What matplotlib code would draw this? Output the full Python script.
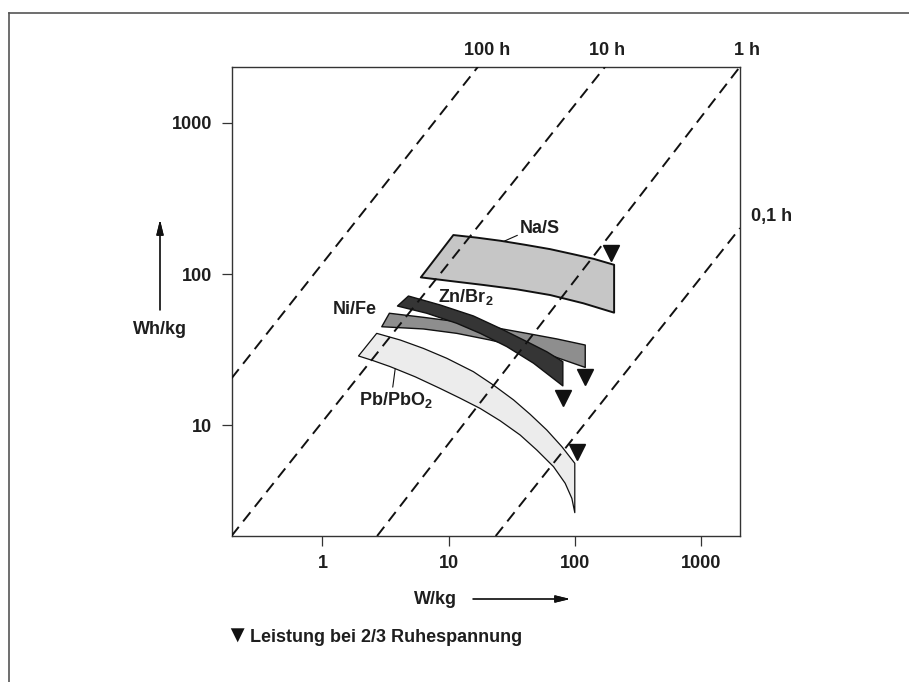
import numpy as np
import matplotlib.pyplot as plt
from matplotlib.lines import Line2D
from matplotlib.ticker import NullLocator

plt.rcParams['font.family'] = ['Liberation Sans', 'DejaVu Sans']
plt.rcParams['font.weight'] = 'bold'
plt.rcParams['mathtext.fontset'] = 'custom'
plt.rcParams['mathtext.rm'] = 'Liberation Sans:bold'
plt.rcParams['mathtext.it'] = 'Liberation Sans:bold'
plt.rcParams['mathtext.bf'] = 'Liberation Sans:bold'

# Entladezeit-Linien, Endpunkte (W/kg, Wh/kg)
hour_labels = ['100 h', '10 h', '1 h', '0,1 h']
dash_w = [[0.19, 17.1], [0.19, 174], [2.71, 2040], [23.6, 2040]]
dash_wh = [[20.4, 2350], [1.85, 2350], [1.85, 2350], [1.85, 201]]

# Bänder: obere und untere Kante (W/kg, Wh/kg)
nas_top_x = [10.9, 16.7, 25.6, 40.4, 63.8, 97.7, 141, 205]
nas_top_y = [181, 174, 166, 156, 146, 135, 126, 115]
nas_bot_x = [6.02, 10.3, 18.9, 34.7, 63.8, 117, 205]
nas_bot_y = [95, 89.9, 84.6, 79.2, 72.6, 64.0, 55.5]

znbr_top_x = [4.80, 8.56, 15.7, 25.6, 41.7, 60.0, 80.4]
znbr_top_y = [71.5, 62.4, 52.8, 43.7, 35.7, 30.6, 26.3]
znbr_bot_x = [3.93, 6.71, 11.6, 17.8, 28.9, 47.1, 80.4]
znbr_bot_y = [61.4, 55.0, 47.2, 40.5, 33.1, 25.7, 18.2]

nife_top_x = [3.39, 6.31, 11.6, 21.3, 41.7, 72.1, 121]
nife_top_y = [55.0, 51.7, 48.4, 44.8, 40.5, 37.2, 33.9]
nife_bot_x = [2.95, 6.31, 11.6, 21.3, 53.2, 121]
nife_bot_y = [44.8, 43.3, 40.5, 36.6, 30.6, 24.1]

pb_top_x = [2.69, 4.13, 6.31, 9.67, 15.7, 22.7, 32.7, 44.3, 60.0, 79.0, 100]
pb_top_y = [40.5, 36.6, 32.2, 27.7, 22.6, 18.4, 14.7, 11.8, 9.29, 7.21, 5.6]
pb_bot_x = [1.93, 2.53, 3.44, 5.43, 8.56, 12.3, 17.8, 25.6, 36.9, 50.0, 67.8, 83.9, 94.8, 100]
pb_bot_y = [28.7, 26.7, 24.4, 20.9, 17.5, 15.1, 12.9, 10.7, 8.61, 6.85, 5.32, 4.13, 3.28, 2.64]

# Leistung bei 2/3 Ruhespannung (Na/S, Zn/Br2, Ni/Fe, Pb/PbO2)
tri_x = [194, 80.4, 121, 104]
tri_y = [138, 15.1, 20.9, 6.69]

W, H = 909, 682
txt = '#1e1e1e'

fig = plt.figure(figsize=(W / 100, H / 100), dpi=100)
ax = fig.add_axes([231.5 / W, 1 - 536 / H, (740 - 231.5) / W, (536 - 66.7) / H])
ax.set_xscale('log')
ax.set_yscale('log')
ax.set_xlim(0.19, 2040)
ax.set_ylim(1.85, 2350)


def band(tx, ty, bx, by, fc, lw):
    xs = list(tx) + list(bx)[::-1]
    ys = list(ty) + list(by)[::-1]
    ax.fill(xs, ys, facecolor=fc, edgecolor='#111111', lw=lw, zorder=2,
            joinstyle='round')


band(nas_top_x, nas_top_y, nas_bot_x, nas_bot_y, '#c6c6c6', 1.4)
band(pb_top_x, pb_top_y, pb_bot_x, pb_bot_y, '#ececec', 0.9)
band(nife_top_x, nife_top_y, nife_bot_x, nife_bot_y, '#8e8e8e', 1.0)
band(znbr_top_x, znbr_top_y, znbr_bot_x, znbr_bot_y, '#353535', 1.0)

for xs, ys in zip(dash_w, dash_wh):
    l, = ax.plot(xs, ys, color='#111111', lw=1.4, zorder=3)
    l.set_dashes((6, 3.6))

ax.plot(tri_x, tri_y, 'v', color='#111111', ms=12, zorder=4, clip_on=False)

ax.set_xticks([1, 10, 100, 1000])
ax.set_xticklabels(['1', '10', '100', '1000'])
ax.set_yticks([10, 100, 1000])
ax.set_yticklabels(['10', '100', '1000'])
ax.xaxis.set_minor_locator(NullLocator())
ax.yaxis.set_minor_locator(NullLocator())
ax.tick_params(direction='out', length=7, width=0.9, color='#333333',
               labelsize=13, labelcolor=txt, pad=7)
for s in ax.spines.values():
    s.set_linewidth(1.0)
    s.set_color('#333333')

# Beschriftungen der Bänder
ax.annotate('Na/S', xy=(27.2, 164), xytext=(53.2, 198.5), fontsize=13, color=txt,
            ha='center', va='center', zorder=5,
            arrowprops=dict(arrowstyle='-', lw=0.8, color='#111111', relpos=(0, 0.2),
                            shrinkA=0, shrinkB=0))
ax.text(13.8, 70.5, 'Zn/Br$_2$', fontsize=13, color=txt, ha='center', va='center', zorder=5)
ax.text(1.80, 57.8, 'Ni/Fe', fontsize=13, color=txt, ha='center', va='center', zorder=5)
ax.annotate('Pb/PbO$_2$', xy=(3.77, 23.6), xytext=(3.83, 14.7), fontsize=13, color=txt,
            ha='center', va='center', zorder=5,
            arrowprops=dict(arrowstyle='-', lw=0.8, color='#111111', relpos=(0.45, 1.0),
                            shrinkA=0, shrinkB=0))

# Stundenbeschriftung
hour_pos = [(486.7, 50.3), (607, 50.3), (747, 50.3), (772, 217)]
for lab, (px, py) in zip(hour_labels, hour_pos):
    fig.text(px / W, 1 - py / H, lab, fontsize=13, color=txt, ha='center', va='center')

# Achsenbeschriftung mit Pfeilen
fig.text(160 / W, 1 - 330 / H, 'Wh/kg', fontsize=13, color=txt, ha='center', va='center')
fig.text(435 / W, 1 - 599 / H, 'W/kg', fontsize=13, color=txt, ha='center', va='center')
arrow = dict(arrowstyle='-|>,head_length=0.9,head_width=0.22', lw=0.9, color='#111111',
             shrinkA=0, shrinkB=0)
fig.add_artist(plt.annotate('', xy=(160 / W, 1 - 220 / H), xytext=(160 / W, 1 - 310 / H),
                            xycoords='figure fraction', arrowprops=arrow))
fig.add_artist(plt.annotate('', xy=(570 / W, 1 - 599 / H), xytext=(473 / W, 1 - 599 / H),
                            xycoords='figure fraction', arrowprops=arrow))

# Legende
fig.text(237 / W, 1 - 636 / H, '\u25bc', fontsize=17, color='#111111',
         ha='center', va='center')
fig.text(250 / W, 1 - 637 / H, 'Leistung bei 2/3 Ruhespannung', fontsize=13,
         color=txt, ha='left', va='center')

# Rahmen
fig.add_artist(Line2D([9 / W, 1], [1 - 12.7 / H, 1 - 12.7 / H], transform=fig.transFigure,
                      color='#555555', lw=1.2))
fig.add_artist(Line2D([9 / W, 9 / W], [0, 1 - 12.7 / H], transform=fig.transFigure,
                      color='#555555', lw=1.2))

fig.savefig('out.png', dpi=100)
